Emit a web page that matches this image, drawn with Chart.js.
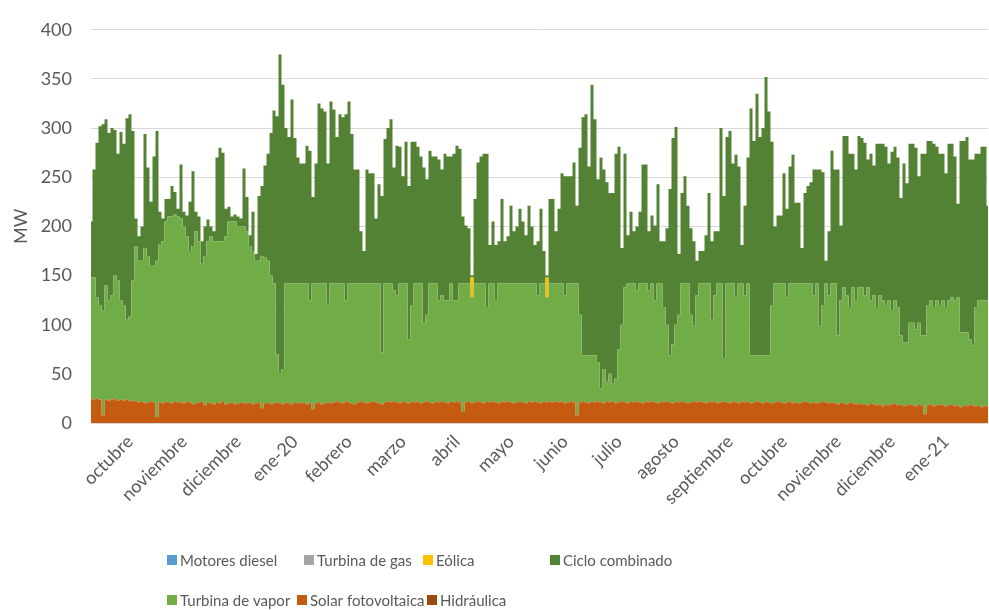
<!DOCTYPE html>
<html lang="es">
<head>
<meta charset="utf-8">
<title>Generación por tecnología (MW)</title>
<script src="https://cdn.jsdelivr.net/npm/chart.js@4.4.1/dist/chart.umd.min.js"></script>
<style>
    html, body { margin: 0; padding: 0; background: #ffffff; }
    #wrap { width: 989px; height: 610px; }
</style>
</head>
<body>
<div id="wrap"><canvas id="grafico" width="989" height="610"></canvas></div>
<script>
"use strict";

// month names shown on the x axis and the sample index where each month starts
const meses = ["octubre", "noviembre", "diciembre", "ene-20", "febrero", "marzo", "abril", "mayo",
    "junio", "julio", "agosto", "septiembre", "octubre", "noviembre", "diciembre", "ene-21"];
const inicioMes = [13, 31, 49, 68, 86, 104, 122, 140, 158, 176, 195, 213, 231, 249, 267, 285];

// MW per sample (one sample every ~1.7 days, peak values)
const solarFotovoltaica = [
    25, 24, 25, 24, 8, 24, 23, 24, 25, 23,
    24, 23, 24, 22, 23, 22, 21, 22, 20, 21,
    22, 21, 6, 21, 20, 22, 21, 20, 22, 21,
    21, 20, 22, 21, 19, 20, 21, 22, 18, 21,
    20, 19, 21, 20, 22, 19, 20, 21, 19, 20,
    21, 20, 20, 21, 19, 20, 21, 15, 20, 21,
    19, 20, 21, 20, 19, 21, 20, 19, 21, 20,
    20, 21, 19, 20, 14, 20, 21, 19, 20, 21,
    20, 21, 22, 21, 20, 22, 21, 20, 19, 21,
    22, 21, 20, 21, 22, 21, 20, 19, 21, 22,
    21, 22, 21, 20, 22, 21, 20, 22, 21, 22,
    20, 21, 22, 21, 20, 22, 21, 22, 21, 20,
    22, 21, 22, 21, 12, 21, 22, 20, 21, 22,
    21, 20, 22, 21, 22, 21, 20, 22, 21, 22,
    21, 20, 21, 22, 21, 20, 22, 21, 22, 21,
    20, 22, 21, 22, 21, 22, 21, 22, 20, 21,
    22, 21, 8, 21, 22, 21, 20, 22, 21, 22,
    21, 20, 22, 21, 22, 20, 21, 22, 21, 20,
    22, 21, 22, 21, 20, 22, 21, 22, 21, 20,
    22, 21, 22, 21, 20, 22, 21, 22, 21, 20,
    21, 22, 21, 22, 21, 20, 22, 21, 22, 20,
    21, 22, 21, 20, 22, 21, 20, 22, 21, 22,
    20, 21, 22, 21, 20, 22, 21, 20, 21, 22,
    21, 20, 21, 22, 20, 21, 20, 21, 22, 21,
    20, 21, 20, 21, 22, 21, 20, 21, 20, 19,
    21, 20, 19, 21, 20, 19, 20, 19, 19, 18,
    20, 19, 18, 19, 17, 19, 18, 19, 20, 18,
    19, 17, 18, 19, 18, 17, 19, 18, 9, 18,
    19, 17, 18, 19, 18, 17, 18, 19, 17, 18,
    16, 18, 17, 19, 18, 17, 18, 16, 17, 18
];

const turbinaVapor = [
    123, 124, 103, 96, 107, 116, 102, 106, 125, 122,
    101, 97, 81, 86, 122, 158, 144, 143, 158, 149,
    138, 139, 159, 161, 165, 183, 189, 190, 190, 189,
    187, 180, 168, 154, 161, 175, 164, 140, 152, 164,
    170, 166, 164, 165, 163, 171, 185, 184, 186, 180,
    179, 180, 175, 159, 156, 145, 144, 155, 148, 144,
    131, 122, 49, 32, 36, 121, 122, 123, 121, 122,
    122, 121, 123, 105, 128, 122, 121, 123, 122, 101,
    122, 121, 120, 121, 122, 103, 121, 122, 123, 121,
    120, 121, 122, 121, 120, 121, 122, 53, 121, 120,
    121, 113, 109, 122, 120, 121, 65, 98, 121, 120,
    122, 81, 88, 121, 122, 120, 104, 108, 104, 105,
    120, 104, 103, 121, 130, 121, 120, 108, 121, 120,
    121, 122, 96, 121, 120, 104, 122, 120, 121, 120,
    121, 122, 121, 120, 121, 122, 120, 121, 120, 109,
    122, 120, 107, 120, 121, 120, 121, 120, 110, 121,
    120, 121, 134, 89, 47, 48, 49, 47, 48, 40,
    14, 35, 20, 29, 18, 25, 54, 78, 117, 122,
    120, 121, 113, 121, 122, 120, 114, 120, 104, 122,
    120, 97, 78, 48, 60, 78, 89, 120, 121, 122,
    89, 77, 109, 120, 121, 122, 120, 84, 108, 122,
    121, 44, 121, 122, 120, 107, 122, 120, 109, 120,
    49, 48, 47, 48, 49, 47, 48, 100, 121, 120,
    121, 122, 107, 120, 122, 121, 122, 121, 120, 121,
    122, 109, 122, 78, 98, 121, 110, 121, 122, 70,
    104, 118, 111, 97, 118, 106, 118, 119, 111, 120,
    105, 111, 100, 111, 108, 101, 107, 96, 105, 100,
    70, 65, 64, 83, 84, 78, 83, 71, 80, 102,
    106, 101, 107, 101, 107, 101, 107, 109, 108, 110,
    76, 74, 75, 66, 61, 101, 107, 109, 108, 107
];

const eolica = [
    0, 0, 0, 0, 0, 0, 0, 0, 0, 0,
    0, 0, 0, 0, 0, 0, 0, 0, 0, 0,
    0, 0, 0, 0, 0, 0, 0, 0, 0, 0,
    0, 0, 0, 0, 0, 0, 0, 0, 0, 0,
    0, 0, 0, 0, 0, 0, 0, 0, 0, 0,
    0, 0, 0, 0, 0, 0, 0, 0, 0, 0,
    0, 0, 0, 0, 0, 0, 0, 0, 0, 0,
    0, 0, 0, 0, 0, 0, 0, 0, 0, 0,
    0, 0, 0, 0, 0, 0, 0, 0, 0, 0,
    0, 0, 0, 0, 0, 0, 0, 0, 0, 0,
    0, 0, 0, 0, 0, 0, 0, 0, 0, 0,
    0, 0, 0, 0, 0, 0, 0, 0, 0, 0,
    0, 0, 0, 0, 0, 0, 0, 20, 0, 0,
    0, 0, 0, 0, 0, 0, 0, 0, 0, 0,
    0, 0, 0, 0, 0, 0, 0, 0, 0, 0,
    0, 0, 20, 0, 0, 0, 0, 0, 0, 0,
    0, 0, 0, 0, 0, 0, 0, 0, 0, 0,
    0, 0, 0, 0, 0, 0, 0, 0, 0, 0,
    0, 0, 0, 0, 0, 0, 0, 0, 0, 0,
    0, 0, 0, 0, 0, 0, 0, 0, 0, 0,
    0, 0, 0, 0, 0, 0, 0, 0, 0, 0,
    0, 0, 0, 0, 0, 0, 0, 0, 0, 0,
    0, 0, 0, 0, 0, 0, 0, 0, 0, 0,
    0, 0, 0, 0, 0, 0, 0, 0, 0, 0,
    0, 0, 0, 0, 0, 0, 0, 0, 0, 0,
    0, 0, 0, 0, 0, 0, 0, 0, 0, 0,
    0, 0, 0, 0, 0, 0, 0, 0, 0, 0,
    0, 0, 0, 0, 0, 0, 0, 0, 0, 0,
    0, 0, 0, 0, 0, 0, 0, 0, 0, 0,
    0, 0, 0, 0, 0, 0, 0, 0, 0, 0
];

const cicloCombinado = [
    57, 110, 157, 182, 189, 169, 170, 170, 148, 129,
    171, 164, 205, 206, 152, 28, 25, 35, 116, 90,
    65, 111, 132, 33, 23, 23, 18, 31, 23, 8,
    55, 15, 21, 50, 76, 20, 25, 23, 30, 22,
    10, 10, 85, 95, 90, 28, 15, 5, 7, 10,
    8, 59, 35, 11, 40, 7, 66, 71, 94, 109,
    145, 176, 242, 323, 289, 158, 149, 187, 148, 128,
    122, 122, 140, 152, 88, 122, 183, 178, 175, 142,
    185, 177, 149, 172, 169, 189, 185, 152, 116, 116,
    53, 33, 116, 112, 112, 66, 101, 159, 147, 158,
    167, 125, 152, 139, 109, 144, 156, 166, 144, 139,
    129, 158, 138, 135, 129, 129, 143, 128, 149, 146,
    129, 149, 157, 137, 68, 59, 56, 2, 86, 123,
    129, 132, 156, 39, 63, 56, 43, 86, 43, 48,
    79, 53, 58, 76, 63, 49, 79, 58, 39, 55,
    76, 33, 2, 86, 86, 53, 76, 112, 121, 109,
    109, 123, 79, 170, 242, 245, 192, 275, 240, 186,
    235, 203, 203, 184, 194, 229, 206, 78, 136, 49,
    73, 53, 65, 73, 121, 121, 60, 69, 76, 101,
    43, 67, 98, 169, 210, 201, 62, 92, 109, 79,
    88, 86, 35, 33, 33, 49, 92, 80, 65, 53,
    158, 165, 149, 155, 122, 145, 119, 39, 91, 128,
    251, 218, 266, 222, 231, 283, 248, 166, 58, 69,
    69, 112, 90, 119, 131, 82, 82, 36, 92, 99,
    103, 128, 116, 159, 135, 23, 65, 135, 116, 169,
    76, 154, 162, 156, 136, 133, 154, 152, 155, 130,
    149, 132, 166, 154, 159, 161, 139, 161, 156, 152,
    140, 182, 162, 182, 182, 185, 149, 185, 185, 167,
    162, 166, 156, 154, 149, 136, 159, 156, 146, 95,
    195, 195, 199, 183, 189, 156, 149, 156, 156, 96
];

// no output recorded for these in the period
const motoresDiesel = [];
const turbinaGas = [];
const hidraulica = [];

const gris = "#595959";
const fuente = "Lato, 'Liberation Sans', sans-serif";

// category labels: month name at the first sample of each month, blank elsewhere
let etiquetas = solarFotovoltaica.map(() => "");
inicioMes.forEach((pos, k) => {
    etiquetas[pos] = meses[k];
});

function serie(label, data, color, fill) {
    return {
        label: label,
        data: data,
        backgroundColor: color,
        borderColor: color,
        borderWidth: 0,
        pointRadius: 0,
        stepped: "middle",
        fill: fill
    };
}

// stacked bottom to top
const datasets = [
    serie("Solar fotovoltaica", solarFotovoltaica, "#c55a11", "origin"),
    serie("Turbina de vapor", turbinaVapor, "#70ad47", "-1"),
    serie("Eólica", eolica, "#ffc000", "-1"),
    serie("Ciclo combinado", cicloCombinado, "#548235", "-1"),
    serie("Hidráulica", hidraulica, "#9e480e", false),
    serie("Motores diesel", motoresDiesel, "#5b9bd5", false),
    serie("Turbina de gas", turbinaGas, "#a5a5a5", false)
];

// legend laid out in two rows below the axis labels
const ordenLeyenda = ["Motores diesel", "Turbina de gas", "Eólica", "Ciclo combinado",
    "Turbina de vapor", "Solar fotovoltaica", "Hidráulica"];
const posLeyenda = [[167, 560], [304, 560], [423, 560], [550, 560],
    [167, 600], [297, 600], [427, 600]];

const leyenda = {
    id: "leyenda",
    afterDraw(chart) {
        let ctx = chart.ctx;
        ctx.save();
        ctx.font = "15px " + fuente;
        ctx.textBaseline = "middle";
        ordenLeyenda.forEach((nombre, k) => {
            let ds = chart.data.datasets.find((d) => d.label === nombre);
            let [x, y] = posLeyenda[k];
            ctx.fillStyle = ds.backgroundColor;
            ctx.fillRect(x, y - 5, 10, 10);
            ctx.fillStyle = gris;
            ctx.fillText(nombre, x + 13, y + 1);
        });
        ctx.restore();
    }
};

new Chart(document.getElementById("grafico"), {
    type: "line",
    data: {
        labels: etiquetas,
        datasets: datasets
    },
    plugins: [leyenda],
    options: {
        responsive: false,
        animation: false,
        events: [],
        layout: {
            padding: { top: 20, right: 1, left: 0, bottom: 0 }
        },
        plugins: {
            legend: { display: false },
            tooltip: { enabled: false }
        },
        scales: {
            x: {
                grid: { display: false },
                border: { display: true, color: "#d9d9d9" },
                ticks: {
                    autoSkip: false,
                    minRotation: 45,
                    maxRotation: 45,
                    padding: 0,
                    color: gris,
                    font: { family: fuente, size: 18 },
                    callback: (value, index) => etiquetas[index]
                },
                afterFit: (scale) => {
                    scale.height = 187;
                    scale.paddingLeft = 0;
                    scale.paddingRight = 0;
                }
            },
            y: {
                stacked: true,
                min: 0,
                max: 400,
                ticks: {
                    stepSize: 50,
                    padding: 19,
                    color: gris,
                    font: { family: fuente, size: 18 }
                },
                grid: { color: "#d9d9d9", drawTicks: false },
                border: { display: false },
                title: {
                    display: true,
                    text: "MW",
                    color: gris,
                    font: { family: fuente, size: 18 },
                    padding: { top: 10, bottom: 0 }
                },
                afterFit: (scale) => { scale.width = 91; }
            }
        }
    }
});
</script>
</body>
</html>
